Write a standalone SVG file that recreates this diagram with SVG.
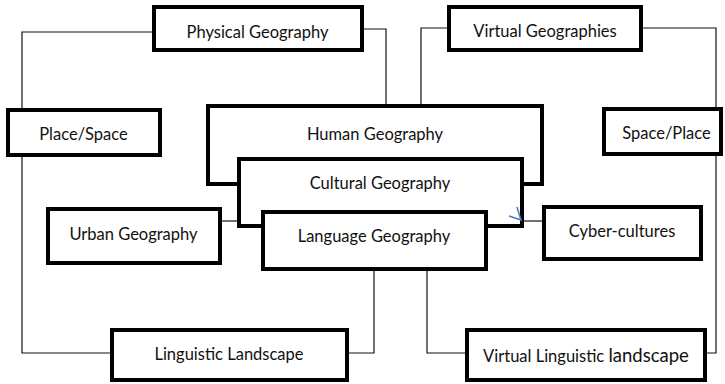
<svg xmlns="http://www.w3.org/2000/svg" width="725" height="384" viewBox="0 0 725 384">
<style>
.box{fill:#fff;stroke:#000;stroke-width:4}
.lbl{font-family:Lato,"Open Sans","Liberation Sans",sans-serif;font-size:16.5px;fill:#111;text-anchor:middle}
.con{fill:none;stroke:#111;stroke-width:1.2}
</style>
<rect width="725" height="384" fill="#fff"/>
<g id="connectors">
<polyline class="con" points="152,32 22,32 22,108"/>
<polyline class="con" points="364,29 386,29 386,104"/>
<polyline class="con" points="22,157 22,353 110,353"/>
<polyline class="con" points="447,28 421,28 421,104"/>
<polyline class="con" points="643,28 716,28 716,107"/>
<polyline class="con" points="716,156 716,353 707,353"/>
<polyline class="con" points="222,221 237,221"/>
<polyline class="con" points="524,221 542,221"/>
<polyline class="con" points="374,271 374,353 349,353"/>
<polyline class="con" points="427,271 427,353 465,353"/>
</g>
<g id="physical"><rect class="box" x="154" y="7" width="208" height="43"/><text class="lbl" x="257.5" y="38">Physical Geography</text></g>
<g id="virtualgeo"><rect class="box" x="449" y="7" width="192" height="43"/><text class="lbl" x="545" y="37">Virtual Geographies</text></g>
<g id="placespace"><rect class="box" x="8" y="110" width="152" height="45"/><text class="lbl" x="83.5" y="140">Place/Space</text></g>
<g id="spaceplace"><rect class="box" x="604" y="109" width="117" height="45"/><text class="lbl" x="666.5" y="139">Space/Place</text></g>
<g id="human"><rect class="box" x="208" y="106" width="334" height="78"/><text class="lbl" x="375" y="140">Human Geography</text></g>
<g id="cultural"><rect class="box" x="239" y="159" width="283" height="67"/><text class="lbl" x="380" y="189">Cultural Geography</text></g>
<g id="language"><rect class="box" x="263" y="212" width="223" height="57"/><text class="lbl" x="374" y="242">Language Geography</text></g>
<g id="urban"><rect class="box" x="48" y="209" width="172" height="54"/><text class="lbl" x="133.5" y="240">Urban Geography</text></g>
<g id="cyber"><rect class="box" x="544" y="207" width="157" height="52"/><text class="lbl" x="622" y="237">Cyber-cultures</text></g>
<g id="linguistic"><rect class="box" x="112" y="330" width="235" height="50"/><text class="lbl" x="229" y="360">Linguistic Landscape</text></g>
<g id="virtualling"><rect class="box" x="467" y="330" width="238" height="50"/><text class="lbl" x="586" y="362">Virtual Linguistic <tspan font-size="18.5">landscape</tspan></text></g>
<g id="mark"><polyline points="509,216 521,220 517,207" fill="none" stroke="#4a7fc1" stroke-width="1.6"/></g>
</svg>
